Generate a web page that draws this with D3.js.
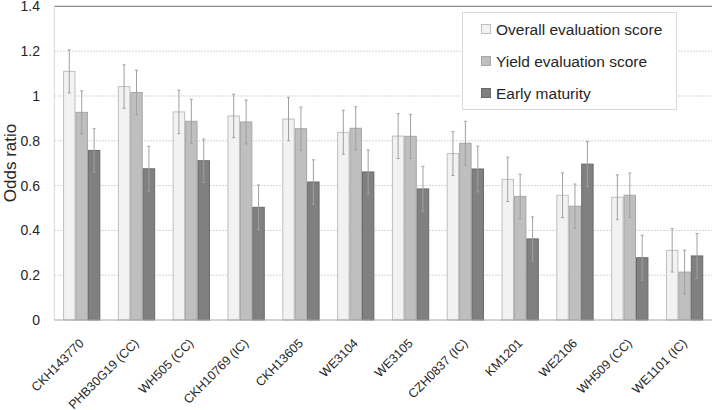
<!DOCTYPE html>
<html>
<head>
<meta charset="utf-8">
<script src="https://cdn.jsdelivr.net/npm/d3@7"></script>
<style>
  body { margin: 0; background: #fff; }
  text { font-family: "Liberation Sans", Arial, sans-serif; fill: #262626; }
</style>
</head>
<body>
<div id="viz"></div>
<script>
const categories = ["CKH143770", "PHB30G19 (CC)", "WH505 (CC)", "CKH10769 (IC)", "CKH13605", "WE3104",
  "WE3105", "CZH0837 (IC)", "KM1201", "WE2106", "WH509 (CC)", "WE1101 (IC)"];
const seriesNames = ["Overall evaluation score", "Yield evaluation score", "Early maturity"];

const overallScore = [1.11, 1.042, 0.929, 0.911, 0.897, 0.838, 0.821, 0.743, 0.628, 0.557, 0.548, 0.311];
const overallErr = [0.096, 0.097, 0.097, 0.097, 0.097, 0.098, 0.1, 0.098, 0.099, 0.1, 0.1, 0.097];
const yieldScore = [0.927, 1.016, 0.887, 0.884, 0.854, 0.856, 0.82, 0.789, 0.552, 0.508, 0.557, 0.214];
const yieldErr = [0.096, 0.099, 0.098, 0.098, 0.096, 0.096, 0.098, 0.098, 0.099, 0.099, 0.099, 0.098];
const earlyMaturity = [0.757, 0.675, 0.711, 0.503, 0.616, 0.661, 0.585, 0.674, 0.362, 0.696, 0.278, 0.286];
const earlyErr = [0.097, 0.1, 0.097, 0.1, 0.099, 0.098, 0.101, 0.102, 0.098, 0.1, 0.1, 0.1];

const yTicks = [0, 0.2, 0.4, 0.6, 0.8, 1, 1.2, 1.4];
const yTickLabels = ["0", "0.2", "0.4", "0.6", "0.8", "1", "1.2", "1.4"];

const fills = ["#f2f2f2", "#bfbfbf", "#808080"];
const strokes = ["#bfbfbf", "#a6a6a6", "#6a6a6a"];

const W = 714, H = 410;
const margin = { top: 6.4, right: 2, bottom: 90, left: 54.3 };

const svg = d3.select("#viz").append("svg")
  .attr("width", W)
  .attr("height", H);

const x = d3.scaleBand()
  .domain(categories)
  .range([margin.left, W - margin.right])
  .paddingInner(0.32)
  .paddingOuter(0.16);

const xs = d3.scaleBand()
  .domain(seriesNames)
  .range([0, x.bandwidth()]);

const y = d3.scaleLinear()
  .domain([0, 1.4])
  .range([H - margin.bottom, margin.top]);

// gridlines
svg.append("g")
  .selectAll("line")
  .data(yTicks.filter(d => d > 0))
  .enter()
  .append("line")
  .attr("x1", margin.left)
  .attr("x2", W - margin.right)
  .attr("y1", d => y(d))
  .attr("y2", d => y(d))
  .attr("stroke", d => d === 1.4 ? "#8c8c8c" : "#c8c8c8")
  .attr("stroke-width", d => d === 1.4 ? 1.2 : 1)
  .attr("stroke-dasharray", d => d === 1.4 ? null : "1.5,1.5");

// left axis line
svg.append("line")
  .attr("x1", margin.left).attr("x2", margin.left)
  .attr("y1", y(1.4)).attr("y2", y(0))
  .attr("stroke", "#d9d9d9");

// y tick labels
const yAxis = svg.append("g")
  .attr("transform", `translate(40,0)`)
  .call(d3.axisLeft(y).tickValues(yTicks).tickSize(0).tickPadding(0)
    .tickFormat((d, i) => yTickLabels[i]));
yAxis.select(".domain").remove();
yAxis.selectAll("text")
  .style("font-size", "14px")
  .style("font-family", "Liberation Sans, Arial, sans-serif")
  .attr("fill", "#262626");

svg.append("text")
  .attr("transform", `translate(16,163) rotate(-90)`)
  .attr("text-anchor", "middle")
  .style("font-size", "17px")
  .text("Odds ratio");

const series = [
  { name: seriesNames[0], values: overallScore, errs: overallErr },
  { name: seriesNames[1], values: yieldScore, errs: yieldErr },
  { name: seriesNames[2], values: earlyMaturity, errs: earlyErr }
];

const rows = [];
series.forEach((s, si) => {
  categories.forEach((c, ci) => {
    rows.push({ cat: c, name: s.name, si: si, v: s.values[ci], e: s.errs[ci] });
  });
});

// bars
svg.append("g")
  .selectAll("rect")
  .data(rows)
  .enter()
  .append("rect")
  .attr("x", d => x(d.cat) + xs(d.name) + 0.5)
  .attr("y", d => y(d.v))
  .attr("width", xs.bandwidth() - 1)
  .attr("height", d => y(0) - y(d.v))
  .attr("fill", d => fills[d.si])
  .attr("stroke", d => strokes[d.si])
  .attr("stroke-width", 1);

// error bars
const eg = svg.append("g").attr("stroke", "#a0a0a0").attr("stroke-width", 1);
rows.forEach(d => {
  const cx = x(d.cat) + xs(d.name) + xs.bandwidth() / 2;
  eg.append("line").attr("x1", cx).attr("x2", cx)
    .attr("y1", y(d.v + d.e)).attr("y2", y(d.v - d.e));
  eg.append("line").attr("x1", cx - 1.5).attr("x2", cx + 1.5)
    .attr("y1", y(d.v + d.e)).attr("y2", y(d.v + d.e));
  eg.append("line").attr("x1", cx - 1.5).attr("x2", cx + 1.5)
    .attr("y1", y(d.v - d.e)).attr("y2", y(d.v - d.e));
});

// baseline
svg.append("line")
  .attr("x1", margin.left).attr("x2", W - margin.right)
  .attr("y1", y(0)).attr("y2", y(0))
  .attr("stroke", "#a6a6a6");

// x labels
svg.append("g")
  .selectAll("text")
  .data(categories)
  .enter()
  .append("text")
  .attr("transform", d => `translate(${x(d) + x.bandwidth() / 2 + 3},344) rotate(-45)`)
  .attr("text-anchor", "end")
  .style("font-size", "12.5px")
  .text(d => d);

// legend
const lg = svg.append("g");
lg.append("rect")
  .attr("x", 462.5).attr("y", 12.5)
  .attr("width", 214).attr("height", 97)
  .attr("fill", "#fff")
  .attr("stroke", "#d9d9d9");
seriesNames.forEach((n, i) => {
  const cy = 29 + i * 32;
  lg.append("rect")
    .attr("x", 481.5).attr("y", cy - 4.5)
    .attr("width", 9).attr("height", 9)
    .attr("fill", fills[i]).attr("stroke", strokes[i]);
  lg.append("text")
    .attr("x", 496).attr("y", cy + 5.5)
    .style("font-size", "15.5px")
    .text(n);
});
</script>
</body>
</html>
